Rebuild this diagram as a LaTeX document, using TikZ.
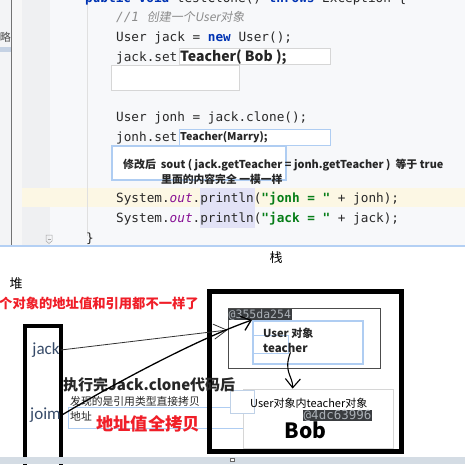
\documentclass[tikz,border=0pt]{standalone}
\usepackage{fontspec}
\setmainfont{Noto Sans CJK SC}
\newfontfamily\codefont{DejaVu Sans Mono}
\newfontfamily\slantcjk[FakeSlant=0.18]{Noto Sans CJK SC}
\newfontfamily\calib{Carlito}
\usetikzlibrary{arrows.meta,positioning}

\definecolor{codefg}{RGB}{40,40,40}
\definecolor{kwblue}{RGB}{0,51,179}
\definecolor{strgreen}{RGB}{6,125,23}
\definecolor{fieldpurple}{RGB}{135,16,148}
\definecolor{commentgray}{RGB}{140,140,140}
\definecolor{codebg}{RGB}{247,248,250}
\definecolor{guttergray}{RGB}{239,240,242}
\definecolor{sidepanel}{RGB}{243,244,246}
\definecolor{selbar}{RGB}{197,210,228}
\definecolor{hlyellow}{RGB}{252,247,228}
\definecolor{hllav}{RGB}{226,226,246}
\definecolor{glowblue}{RGB}{175,205,242}
\definecolor{patchline}{RGB}{214,214,214}
\definecolor{redtxt}{RGB}{240,30,40}
\definecolor{jackfg}{RGB}{55,75,105}
\definecolor{lbldark}{RGB}{58,61,64}
\definecolor{lbltext}{RGB}{170,176,182}
\definecolor{botbar}{RGB}{212,220,228}
\definecolor{panelblue}{RGB}{180,208,244}

\newcommand\setfs[1]{\fontsize{#1}{#1}\selectfont}

\begin{document}
\begin{tikzpicture}[x=1pt,y=-1pt,
  code/.style={anchor=base west,inner sep=0pt,text=codefg,font=\codefont\setfs{12.7}},
  note/.style={anchor=west,inner sep=0pt,text=black!85},
  patch/.style={draw=patchline,fill=white,line width=0.8pt},
  glow/.style={draw=glowblue,fill=white,line width=1.6pt},
  frame/.style={draw=black,line width=4pt},
  addr/.style={anchor=north west,fill=lbldark,text=lbltext,inner xsep=0.5pt,inner ysep=0.5pt,text height=8.5pt,text depth=1.5pt},
  link/.style={draw=black,-{Straight Barb[length=9pt,width=15pt]}}
]
\useasboundingbox (0,0) rectangle (465,464);
\fill[white] (0,0) rectangle (465,464);

% code panel
\fill[sidepanel] (0,0) rectangle (11,246);
\fill[selbar] (0,47) rectangle (11,52);
\begin{scope}
\clip (0,0) rectangle (11,246);
\node[anchor=east,inner sep=0pt,text=black!70,font=\setfs{11}] (sideTxt) at (11,37) {略};
\end{scope}
\draw[black!55,line width=0.8pt] (11.5,0) -- (11.5,246);
\fill[white!97!black] (12,0) rectangle (22,246);
\fill[guttergray] (22,0) rectangle (50,246);
\draw[black!12] (50,0) -- (50,246);
\fill[codebg] (50,0) rectangle (465,246);
\fill[hlyellow] (22,188) rectangle (465,207);
\fill[hllav] (200,188) rectangle (255,228);
\draw[black!12] (87,0) -- (87,236);
\draw[black!35,line width=0.5pt] (46,235) -- (52,235) -- (52,241) -- (49,243.5) -- (46,241) -- cycle;
\draw[black!35,line width=0.5pt] (47.5,239) -- (50.5,239);

% code lines
\node[code] (ln0) at (85,2) {\textcolor{kwblue}{\bfseries public void} testClone() \textcolor{kwblue}{\bfseries throws} Exception \{};
\node[code,text=commentgray] (ln1) at (116,21) {\itshape //1 \slantcjk\setfs{12}创建一个User对象};
\node[code] (ln2) at (116,41) {User jack = \textcolor{kwblue}{\bfseries new} User();};
\node[code] (ln3) at (116,61) {jack.set};
\node[code] (ln4) at (116,121) {User jonh = jack.clone();};
\node[code] (ln5) at (116,141) {jonh.set};
\node[code] (ln6) at (116,202) {System.\textcolor{fieldpurple}{\itshape out}.println(\textcolor{strgreen}{\bfseries "jonh = "} + jonh);};
\node[code] (ln7) at (116,222) {System.\textcolor{fieldpurple}{\itshape out}.println(\textcolor{strgreen}{\bfseries "jack = "} + jack);};
\node[code] (ln8) at (86,242) {\}};

% patches over the code
\draw[patch] (179,48) rectangle (330,64);
\draw[patch] (111,65) rectangle (239,90);
\draw[patch,draw=glowblue] (179,129) rectangle (330,145);
\draw[glow] (112,146) rectangle (286,180);
\node[note,font=\bfseries\setfs{14}] (setBob) at (180,57) {Teacher( Bob );};
\node[note,font=\bfseries\setfs{10.7}] (setMarry) at (180,137) {Teacher(Marry);};
\node[note,font=\bfseries\setfs{10.9}] (afterEdit) at (123,165) {修改后\ \ sout ( jack.getTeacher = jonh.getTeacher ) \ 等于 true};
\node[note,font=\bfseries\setfs{10.8}] (sameTxt) at (161,179.5) {里面的内容完全 一模一样};
\draw[panelblue,line width=1.5pt] (0,246) -- (465,246);

% heap and stack
\node[font=\setfs{13}] (stackLbl) at (276,258) {栈};
\node[font=\setfs{13}] (heapLbl) at (16,284) {堆};
\node[note,text=redtxt,font=\bfseries\setfs{13.3}] (diffTxt) at (-1,303.5) {个对象的地址值和引用都不一样了};

\draw[glow,line width=1pt] (68,407) rectangle (253,428);
\draw[frame] (25,326) rectangle (61,470);
\draw[frame,line width=5pt] (209.5,291.5) rectangle (401.5,451.5);

\node[draw=black!70,line width=0.8pt,minimum width=152pt,minimum height=60pt] (objRect) at (304,338) {};
\node[addr,font=\codefont\setfs{11.5}] (addrUser) at (228,309) {@355da254};
\node[glow,anchor=north west,minimum width=110pt,minimum height=43pt] (userObj) at (252,320) {};
\draw[glowblue,line width=0.8pt] (253,335) rectangle (288,353);
\node[note,font=\bfseries\setfs{11}] (userTxt) at (263,333.5) {User 对象};
\node[note,font=\bfseries\setfs{11.5}] (teacherFld) at (263,347.5) {teacher};

\node[patch,minimum width=150pt,minimum height=59pt] (bobObj) at (318,418.5) {};
\draw[patch,draw=glowblue!60!patchline] (230,390) rectangle (254,413);
\node[note,text=black,font=\setfs{11}] (innerTxt) at (250,403) {User对象内teacher对象};
\node[addr,font=\codefont\setfs{12.5}] (addrBob) at (303,410) {@4dc63996};
\node[font=\bfseries\setfs{21}] (bobTxt) at (305.5,430) {Bob};

\node[font=\calib\setfs{17},text=jackfg,inner sep=1pt] (jack) at (46,350) {jack};
\node[font=\calib\setfs{17},text=jackfg,inner sep=1pt] (joim) at (45.5,415) {joim};

\node[note,font=\bfseries\setfs{15}] (cloneTxt) at (63,385) {执行完Jack.clone代码后};
\node[note,font=\setfs{10.8}] (findTxt) at (70,401.5) {发现的是引用类型直接拷贝};
\node[note,font=\setfs{10.8}] (addrTxt) at (70,416.5) {地址};
\node[note,text=redtxt,font=\bfseries\setfs{17.3}] (copyTxt) at (96,424) {地址值全拷贝};

% references
\draw[link,draw=black!80,line width=0.8pt,-{Straight Barb[length=13pt,width=15pt]}] (jack.east) -- (objRect.174);
\draw[link,line width=1.3pt] (joim.east) .. controls (115,383) and (200,338) .. (userObj.north west);
\draw[link,line width=1.1pt] ([xshift=5pt]teacherFld.south) .. controls (283,372) and (293,376) .. ([xshift=50pt]bobObj.north west);

% bottom bar
\fill[botbar] (0,457) rectangle (465,464);
\draw[black!60,fill=white,line width=0.5pt] (230.5,458) rectangle (234,461.5);
\end{tikzpicture}
\end{document}
